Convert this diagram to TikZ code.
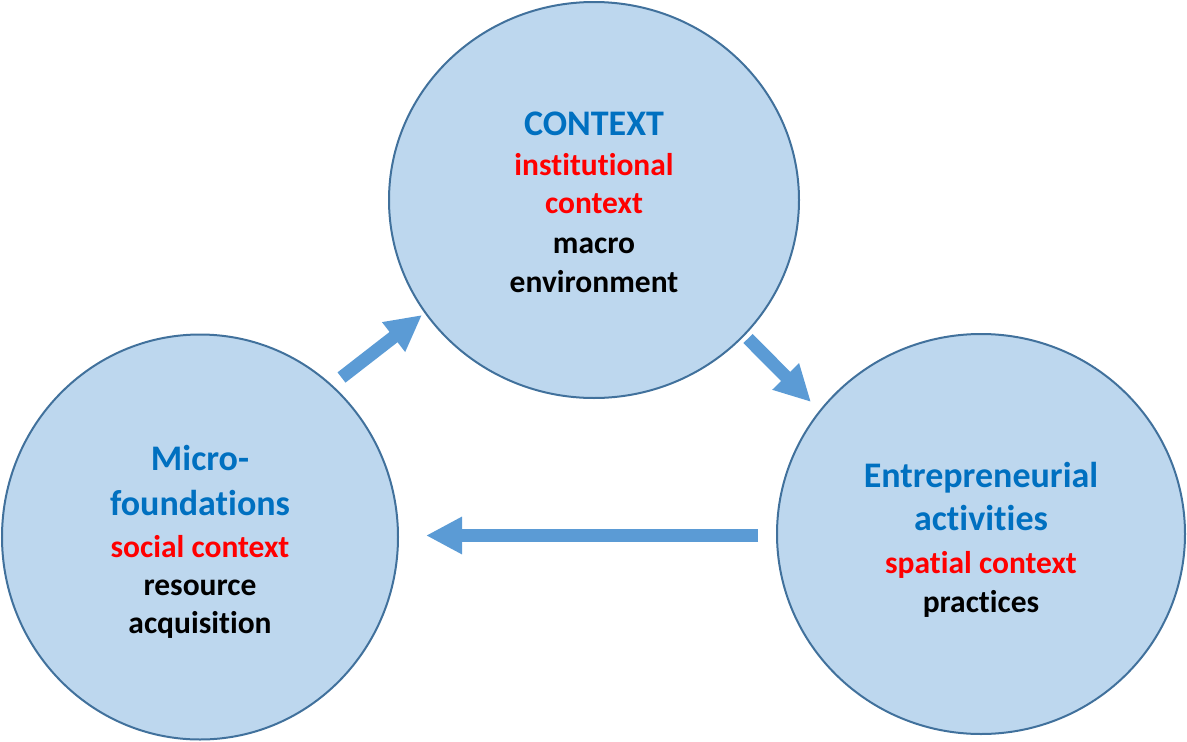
\documentclass[tikz,border=0pt]{standalone}
\usepackage{fontspec}
\setmainfont{Carlito}[Ligatures=NoCommon]
\usetikzlibrary{shapes.geometric,arrows.meta}
\definecolor{cfill}{HTML}{BDD7EE}
\definecolor{cline}{HTML}{41719C}
\definecolor{arrowblue}{HTML}{5B9BD5}
\definecolor{titleblue}{HTML}{0070C0}
\definecolor{redtext}{HTML}{FF0000}
\tikzset{
  bubble/.style={ellipse, draw=cline, fill=cfill, line width=2pt, inner sep=0pt},
  ttl/.style={anchor=base, inner sep=0pt, text=titleblue, font=\fontsize{36}{43}\selectfont\bfseries},
  redline/.style={anchor=base, inner sep=0pt, text=redtext, font=\fontsize{31.5}{38.5}\selectfont\bfseries},
  blkline/.style={anchor=base, inner sep=0pt, text=black, font=\fontsize{31.5}{38.5}\selectfont\bfseries},
  blockarrow/.style={draw=arrowblue, line width=13pt, -{Triangle[width=35pt,length=36pt]}}
}
\begin{document}
\begin{tikzpicture}[x=1pt,y=-1pt]
\useasboundingbox (0,0) rectangle (1187,742);
% circles
\node[bubble, minimum width=410pt, minimum height=396pt] (ctx) at (594,200) {};
\node[bubble, minimum width=396pt, minimum height=405pt] (micro) at (200,537) {};
\node[bubble, minimum width=408pt, minimum height=400pt] (entr) at (981,534) {};
% top texts
\node[ttl] (ctx1) at (594,135) {CONTEXT};
\node[redline] (ctx2) at (594,175) {institutional};
\node[redline] (ctx3) at (594,213) {context};
\node[blkline] (ctx4) at (594,253) {macro};
\node[blkline] (ctx5) at (594,292) {environment};
% left texts
\node[ttl] (mic1) at (200,470) {Micro-};
\node[ttl] (mic2) at (200,515) {foundations};
\node[redline] (mic3) at (200,557) {social context};
\node[blkline] (mic4) at (200,595) {resource};
\node[blkline] (mic5) at (200,633) {acquisition};
% right texts
\node[ttl] (ent1) at (981,487) {Entrepreneurial};
\node[ttl] (ent2) at (981,530) {activities};
\node[redline] (ent3) at (981,573) {spatial context};
\node[blkline] (ent4) at (981,612) {practices};
% arrows
\coordinate (a1s) at (341.5,377.5);
\coordinate (a1e) at (422,315);
\coordinate (a2s) at (748,338.5);
\coordinate (a2e) at (811,402);
\coordinate (a3s) at (758,535.5);
\coordinate (a3e) at (426,535.5);
\draw[blockarrow] (a1s) -- (a1e);
\draw[blockarrow] (a2s) -- (a2e);
\draw[blockarrow] (a3s) -- (a3e);
\end{tikzpicture}
\end{document}
